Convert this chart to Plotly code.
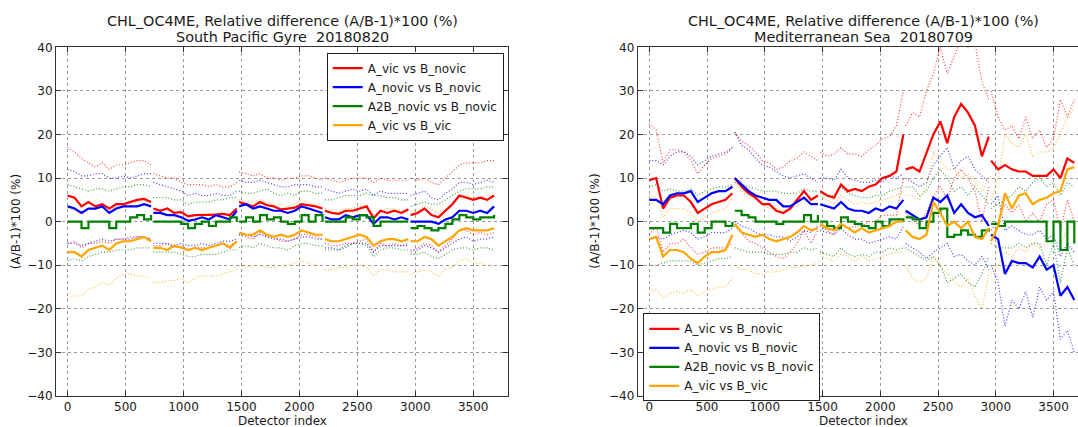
import plotly.graph_objects as go

W, H = 1078, 427
STEP = 60
SEG_START = [0, 740, 1480, 2220, 2960]

SERIES_NAMES = ["A_vic vs B_novic", "A_novic vs B_novic", "A2B_novic vs B_novic", "A_vic vs B_vic"]
COLORS = ["#ff0000", "#0000ff", "#008000", "#ffa500"]
X_TICKS = [0, 500, 1000, 1500, 2000, 2500, 3000, 3500]
Y_TICKS = [-40, -30, -20, -10, 0, 10, 20, 30, 40]
TITLE_1 = "CHL_OC4ME, Relative difference (A/B-1)*100 (%)"
SUBTITLES = ["South Pacific Gyre  20180820", "Mediterranean Sea  20180709"]

# ---------------- South Pacific Gyre 20180820 ----------------
spg_red = [
    [6.0, 5.5, 3.5, 4.5, 3.5, 4.0, 3.0, 4.0, 4.0, 4.5, 5.0, 5.2, 4.5],
    [3.0, 2.5, 3.0, 2.0, 2.2, 1.2, 1.5, 1.5, 1.5, 1.6, 1.8, 1.5, 3.0],
    [4.5, 4.0, 3.5, 4.5, 3.8, 3.5, 2.8, 3.0, 3.2, 4.0, 3.8, 3.5, 3.0],
    [2.5, 2.0, 1.8, 2.5, 2.5, 3.0, 3.5, 0.8, 2.5, 2.0, 2.5, 2.0, 2.8],
    [1.5, 2.0, 3.0, 1.5, 1.0, 2.5, 4.0, 6.0, 5.5, 5.0, 5.5, 5.0, 6.0]]
spg_blue = [
    [3.5, 3.0, 2.0, 3.0, 3.0, 3.5, 2.0, 3.0, 3.5, 3.5, 3.5, 4.0, 3.5],
    [2.0, 2.0, 1.5, 1.5, 1.0, 0.2, 0.5, 1.0, 0.5, 1.5, 1.0, 0.5, 2.5],
    [3.5, 4.0, 3.0, 3.5, 3.0, 2.5, 2.5, 2.0, 2.5, 3.5, 3.0, 2.5, 2.0],
    [1.0, 0.5, 0.5, 1.5, 1.0, 1.5, 1.5, -0.5, 1.0, 1.0, 0.5, 1.0, 0.5],
    [0.0, 0.0, 0.0, 0.0, -0.5, 0.5, 1.0, 2.5, 2.5, 2.0, 2.5, 2.0, 3.5]]
spg_green = [
    [0, 0, -1.5, 0, 0, 0, -1.5, 0, 0, 1.0, 1.5, 0.5, 1.5],
    [0, 0, 0, 0, -0.5, -1.5, -0.5, 0, -1.0, 0, 0, 1.0, 0],
    [0, 1.0, 0, 1.5, 0.5, 1.0, 0, -0.5, 0, 1.5, 0, 1.5, 0],
    [0, 0, 0, 1.0, 0.5, 1.5, 1.0, -1.0, 0, 0, 0, 0, 0],
    [-1.5, -1.0, -1.5, -2.0, -1.5, -0.5, 0.5, 1.5, 1.0, 0.5, 1.0, 1.0, 1.5]]
spg_orange = [
    [-7.0, -7.0, -8.0, -6.5, -6.0, -5.5, -6.5, -5.0, -4.5, -4.5, -4.0, -3.5, -4.5],
    [-6.0, -6.0, -6.5, -5.5, -6.0, -6.5, -6.0, -6.5, -6.0, -5.5, -5.0, -6.0, -4.5],
    [-2.5, -3.0, -3.0, -2.0, -3.0, -3.5, -3.0, -3.5, -3.0, -2.0, -2.5, -3.0, -3.0],
    [-4.0, -4.5, -4.5, -4.0, -3.5, -3.0, -3.5, -5.5, -4.5, -4.0, -4.0, -4.5, -4.0],
    [-4.5, -4.5, -3.5, -4.0, -5.5, -4.5, -3.5, -2.0, -1.5, -2.0, -2.0, -2.0, -1.5]]

spg_red_hi = [
    [17, 16, 14.5, 13.5, 12.5, 13.5, 12, 13, 13, 13.5, 14, 14, 13],
    [11, 10.5, 10, 10, 9, 8.5, 8.5, 8.5, 8, 8.5, 8, 8, 9],
    [11.5, 11, 10.5, 11, 10, 10, 9.5, 10, 10, 10.5, 10.5, 10, 9.5],
    [10, 9.5, 9, 9.5, 10, 10, 10, 9, 10, 9.5, 9.5, 9.5, 9.5],
    [10, 9.5, 10, 9, 8.5, 10, 11.5, 13, 13.5, 13.5, 13.5, 14, 14]]
spg_red_lo = [
    [-5, -4.5, -6, -5, -5, -4.5, -5, -4, -4, -3.5, -3.5, -3.5, -4],
    [-5.5, -5.5, -5, -6, -5.5, -6.5, -6, -6, -6, -5.5, -5, -5.5, -4.5],
    [-3, -3.5, -4, -2.5, -3.5, -3.5, -4.5, -4.5, -4, -3, -3, -3.5, -4],
    [-5, -5.5, -5.5, -5, -5, -4.5, -4, -7, -5, -5.5, -5, -5.5, -5],
    [-7, -6, -5, -5.5, -7, -5.5, -4, -2, -2, -3, -2.5, -3, -2.5]]
spg_blue_hi = [
    [12, 11.5, 10.5, 10.5, 11, 11, 10, 10, 10.5, 10, 10.5, 11, 11],
    [9, 8.5, 8, 7.5, 7, 6, 6.5, 6, 6, 6.5, 6, 6, 7],
    [9.5, 9, 9, 9.5, 9, 8.5, 8, 8, 8.5, 8.5, 8.5, 8, 8],
    [7.5, 7, 6.5, 7, 7.5, 7, 7.5, 6, 7, 6.5, 6.5, 6.5, 6.5],
    [6, 6.5, 7, 5.5, 5, 6.5, 7.5, 9, 9, 8.5, 9, 9.5, 9]]
spg_blue_lo = [
    [-5, -5, -5.5, -5, -4.5, -4, -4.5, -4, -4, -4, -3.5, -3.5, -4],
    [-5, -5, -5, -5.5, -5, -5.5, -5.5, -5, -5.5, -5, -4.5, -4.5, -4],
    [-3, -3, -3.5, -3, -3.5, -4, -4, -4.5, -4, -3.5, -3.5, -4, -4],
    [-6, -6, -6.5, -5.5, -5, -5, -5, -7, -5.5, -5.5, -5.5, -5.5, -5.5],
    [-6.5, -6.5, -5.5, -6, -7, -6, -5, -4, -3.5, -4.5, -4, -4, -3.5]]
spg_green_hi = [
    [8.5, 8, 7.5, 7, 7.5, 7.5, 7, 7.5, 8, 8, 8.5, 8.5, 8],
    [5.5, 5.5, 5.5, 5, 5, 4, 4.5, 4.5, 4.5, 5, 5, 5.5, 5.5],
    [7, 6.5, 6.5, 7, 7.5, 6.5, 6, 6.5, 6, 7, 7, 6.5, 6.5],
    [5, 5, 5.5, 6, 6, 6, 6.5, 6, 6, 5.5, 5.5, 5, 5],
    [3.5, 4, 4.5, 4, 4, 5, 6, 7, 7.5, 7.5, 7.5, 8, 8]]
spg_green_lo = [
    [-9, -8.5, -9, -8, -7.5, -7, -7, -6.5, -6.5, -6.5, -6, -6, -6],
    [-7, -7, -7, -7, -7.5, -8, -8, -7.5, -7.5, -7.5, -7, -6.5, -6.5],
    [-6, -5.5, -6, -5, -5.5, -6, -6, -6.5, -5.5, -5, -5, -5.5, -5.5],
    [-6.5, -6.5, -6.5, -6, -5, -5, -5.5, -8, -6.5, -6, -6, -6.5, -6.5],
    [-7.5, -7.5, -7, -8, -8.5, -7.5, -6.5, -6, -6, -6.5, -6, -6, -6.5]]
spg_orange_hi = [
    [3, 2.5, 1.5, 3, 3, 3.5, 2.5, 3.5, 4, 4, 4.5, 5, 4.5],
    [2, 2, 1.5, 2, 2, 1.5, 1.5, 1.5, 1.5, 2, 2, 1.5, 2],
    [5, 4.5, 4.5, 5, 4.5, 4, 4, 3.5, 4, 5, 4.5, 4, 4],
    [3, 2.5, 2.5, 3, 3, 3.5, 3.5, 1.5, 2.5, 3, 3, 2.5, 3],
    [2.5, 2.5, 3.5, 3, 2, 3, 4, 5.5, 6, 5.5, 5.5, 6, 6]]
spg_orange_lo = [
    [-17.5, -17, -17, -15.5, -15, -14, -14.5, -13, -12, -12, -12.5, -12.5, -13],
    [-14, -14, -13.5, -13.5, -13, -14, -13, -12.5, -12.5, -12.5, -12, -11.5, -11],
    [-10, -10.5, -10, -10, -10.5, -10.5, -10, -10, -9.5, -9, -9.5, -10, -10],
    [-11, -11, -10.5, -10.5, -10, -10, -10.5, -12.5, -11, -11, -11.5, -11.5, -11.5],
    [-12, -11.5, -11, -11.5, -12.5, -11, -10.5, -9, -8.5, -9.5, -9.5, -10, -10]]

# ---------------- Mediterranean Sea 20180709 ----------------
med_red = [
    [9.5, 10, 3.0, 5.5, 6.0, 6.0, 4.5, 2.0, 3.0, 4.0, 4.5, 5.0, 6.5],
    [10, 8.0, 6.5, 5.5, 4.0, 4.0, 2.5, 2.0, 3.0, 5.0, 7.0, 5.0, 6.0],
    [7.0, 6.0, 5.5, 8.5, 7.0, 7.5, 7.0, 8.0, 8.5, 10.0, 10.5, 11.5, 20.0],
    [12, 12.5, 11.5, 16, 20, 23, 18, 24, 27, 25, 22, 15, 19.5],
    [14, 12, 13, 12, 11.5, 11.5, 10.5, 10.5, 10.5, 12, 10, 14.5, 13.5]]
med_blue = [
    [5.0, 5.0, 4.0, 6.0, 6.5, 6.5, 7.0, 4.5, 5.5, 6.5, 7.0, 7.0, 8.0],
    [10, 8.5, 7.0, 6.0, 5.5, 5.0, 5.0, 3.5, 3.5, 4.5, 5.5, 4.0, 4.0],
    [4.0, 3.5, 3.0, 4.5, 3.0, 2.5, 2.5, 2.0, 3.0, 2.5, 3.5, 3.0, 5.0],
    [2.5, 1.5, 0.5, 1.0, 5.5, 4.5, 6.0, 2.0, 4.0, 2.0, 1.0, 1.5, -1.0],
    [-3.0, -4.0, -12, -9.0, -9.5, -9.5, -10.5, -8.0, -11, -10, -17, -15, -18]]
med_green = [
    [-1.5, -1.5, -2.5, -0.5, -1.5, -1.5, -0.5, -2.5, -1.5, 0, 0, -1.0, 0],
    [2.5, 1.5, 1.0, 0, 0, 0, -0.5, 0, 0, 0, 1.5, 0, 1.5],
    [0, -1.0, -1.5, 1.0, 0, -0.5, -1.0, -1.5, 0, -1.0, 0.5, 0.5, 0],
    [1.0, 0.5, -1.5, 0, 2.0, 3.0, -3.5, -3.0, -2.0, -3.0, -3.5, -2.0, -1.5],
    [-0.5, -1.0, 0, 0, 0, 0, 0, 0, -4.5, 0, -6.5, 0, -5.0]]
med_orange = [
    [-4.0, -3.5, -8.0, -6.5, -6.5, -7.0, -8.5, -9.5, -8.0, -7.0, -7.0, -6.5, -3.0],
    [-0.5, -2.5, -3.0, -3.5, -3.0, -4.0, -4.5, -4.0, -3.5, -2.5, -1.0, -2.0, -1.5],
    [-0.5, -1.5, -2.0, -0.5, -1.5, -2.5, -1.5, -2.5, -2.0, -1.5, -1.0, 0, 0],
    [-2.0, -3.5, -4.0, -3.0, 4.5, 2.0, -1.0, 0, -1.5, 0, -3.5, -4.0, -1.5],
    [-4.5, -1.0, 6.5, 3.0, 6.0, 6.5, 4.0, 5.0, 5.5, 6.5, 7.0, 12.0, 12.5]]

med_red_hi = [
    [22.5, 21, 13.5, 16.5, 16.5, 16, 14, 11, 13, 14.5, 15, 15.5, 17],
    [20.5, 18.5, 17.5, 16, 14, 13.5, 12, 12.5, 14, 14.5, 16, 15, 14],
    [16, 15, 15.5, 17, 15.5, 15.5, 15, 16.5, 17.5, 19, 19.5, 22, 30],
    [22, 25, 24, 30, 34, 40, 34, 38, 42, 40, 41, 32, 28],
    [30, 24, 21, 22, 19, 24, 19, 21, 17, 19, 28, 24, 28]]
med_red_lo = [
    [-3, -1, -7, -5, -5, -4, -6, -7.5, -7, -6, -6, -6, -5],
    [-1, -2.5, -4.5, -5, -6, -7, -8, -8.5, -7, -5, -2, -5, -2],
    [-1, -2, -3, -0.5, -1.5, -1, -1, 0, 0, 1.5, 1.5, 1.5, 10],
    [2, 0.5, -1, 2, 6, 8, 5, 10, 12, 10, 7, 0, 8],
    [-2, 0, 4, 2, 4, 0, 2, 0, 4, 5, -2, 5, 0]]
med_blue_hi = [
    [14, 14, 13, 15, 16, 16, 15, 13, 14, 15, 15.5, 16, 17],
    [20.5, 17.5, 16.5, 14.5, 13, 12.5, 11.5, 10.5, 10, 10.5, 11, 10, 9],
    [10, 10, 9.5, 12, 10, 9.5, 9, 9, 9.5, 9, 10.5, 10, 11],
    [10, 9, 8, 9, 13, 15, 17, 12, 14, 15, 12, 10.5, 9],
    [4, 6, -2, -1, -2, -3, -3, -2, -4, -3, -8, -5, -7]]
med_blue_lo = [
    [-4, -3.5, -4, -3, -2.5, -2, -2.5, -4, -3.5, -2.5, -2.5, -2.5, -1.5],
    [0, -1, -1.5, -2.5, -3, -3, -3.5, -3.5, -4.5, -3.5, -2, -2.5, -1],
    [-2, -2.5, -3, -1.5, -3, -4, -4, -5, -4.5, -4, -3.5, -4, -1],
    [-5, -6, -7, -8.5, -7, -6, -5, -8, -7.5, -9, -10, -8, -11],
    [-10, -14, -24, -18, -20, -16, -22, -15, -18, -16, -27, -25, -30]]
med_green_hi = [
    [8, 8.5, 7, 7.5, 7, 7, 7.5, 6, 7, 7.5, 8, 8, 8.5],
    [9, 8.5, 8, 7.5, 7, 7, 7, 6.5, 6.5, 6.5, 7.5, 7, 7],
    [6.5, 6, 6, 8, 6.5, 6, 5.5, 5.5, 6, 6, 7, 7.5, 8],
    [8, 8, 6, 7, 10, 12, 10, 7, 8, 6, 8, 6, 4],
    [3, 4, 5, 6, 8, 7, 9, 10, 8, 9, 6, 9, 8]]
med_green_lo = [
    [-10, -10, -9.5, -9, -9, -9, -9, -10, -9.5, -9, -8.5, -8.5, -8],
    [-6, -6.5, -7, -7, -7, -7.5, -7.5, -7.5, -7, -7, -6, -6.5, -6],
    [-7, -7.5, -8, -6, -7.5, -8, -7.5, -8, -7, -7, -6, -6.5, -6],
    [-6, -7, -8, -9, -8, -10, -14, -13, -12, -14, -15, -12, -8],
    [-5, -6, -6, -6, -5, -6, -5, -5, -10, -5, -14, -6, -10]]
med_orange_hi = [
    [6, 5.5, 1, 3, 3, 3, 2, 0, 1, 2, 2.5, 3, 5.5],
    [9, 7, 5.5, 5, 4, 3, 3, 2.5, 3, 3.5, 5, 4, 4],
    [6, 5, 4, 6, 5, 4, 4.5, 4, 4.5, 5, 5.5, 6, 7],
    [6, 6, 5, 8, 16, 14, 12, 12, 10, 11, 9, 7, 10],
    [5, 10, 20, 18, 17, 20, 15, 16, 16, 17, 20, 24, 26]]
med_orange_lo = [
    [-16, -15.5, -17.5, -16.5, -16, -16.5, -15.5, -17, -16, -15.5, -15, -15, -13],
    [-10, -11, -11, -12, -12, -11.5, -11.5, -11, -10.5, -10.5, -10, -10, -9.5],
    [-7.5, -8.5, -9, -7.5, -8, -9, -8, -9, -8.5, -8, -7.5, -7, -7],
    [-10, -13, -14, -13, -8, -10, -12, -14, -15, -13, -17, -20, -12],
    [-12, -10, -7, -8, -6, -7, -5, -6, -5, -4, -5, -2, 0]]


def seg_xy(segs):
    xs, ys = [], []
    for s0, vals in zip(SEG_START, segs):
        for i, v in enumerate(vals):
            xs.append(s0 + i * STEP)
            ys.append(v)
        xs.append(None)
        ys.append(None)
    return xs, ys


fig = go.Figure()

panels = [
    dict(xa="x", ya="y", legend="legend",
         mean=[spg_red, spg_blue, spg_green, spg_orange],
         hi=[spg_red_hi, spg_blue_hi, spg_green_hi, spg_orange_hi],
         lo=[spg_red_lo, spg_blue_lo, spg_green_lo, spg_orange_lo]),
    dict(xa="x2", ya="y2", legend="legend2",
         mean=[med_red, med_blue, med_green, med_orange],
         hi=[med_red_hi, med_blue_hi, med_green_hi, med_orange_hi],
         lo=[med_red_lo, med_blue_lo, med_green_lo, med_orange_lo]),
]
SHAPES = ["linear", "linear", "hv", "linear"]

for p in panels:
    for k in range(4):
        for band in (p["hi"][k], p["lo"][k]):
            x, y = seg_xy(band)
            fig.add_trace(go.Scatter(x=x, y=y, mode="lines", xaxis=p["xa"], yaxis=p["ya"],
                                     line=dict(color=COLORS[k], width=1.2, dash="1px,2px"),
                                     opacity=0.75, showlegend=False, hoverinfo="skip"))
    for k in range(4):
        x, y = seg_xy(p["mean"][k])
        fig.add_trace(go.Scatter(x=x, y=y, mode="lines", xaxis=p["xa"], yaxis=p["ya"],
                                 name=SERIES_NAMES[k], legend=p["legend"],
                                 line=dict(color=COLORS[k], width=2.2, shape=SHAPES[k])))

FONT = "DejaVu Sans"
TXT = "#1a1a1a"
TICKF = dict(family=FONT, size=12, color=TXT)


def px_x(v):
    return v / W


def px_y(v):
    return 1 - v / H


ydom = [px_y(396), px_y(47.3)]
common_x = dict(tickvals=X_TICKS, ticks="inside", ticklen=5,
                tickcolor="#333", showline=True, linecolor="#333", linewidth=1,
                showgrid=True, gridcolor="#9a9a9a", griddash="dot", gridwidth=1,
                zeroline=False, tickfont=TICKF)
common_y = dict(range=[-40, 40], tickvals=Y_TICKS, ticks="inside", ticklen=5,
                tickcolor="#333", showline=True, linecolor="#333", linewidth=1,
                showgrid=True, gridcolor="#9a9a9a", griddash="dot", gridwidth=1,
                zeroline=False, tickfont=TICKF, domain=ydom)

LEG = dict(xanchor="left", yanchor="top", bgcolor="white", bordercolor="#222", borderwidth=1,
           font=dict(family=FONT, size=12, color=TXT), tracegroupgap=0, itemwidth=30)

fig.update_layout(
    width=W, height=H, autosize=False,
    margin=dict(l=0, r=0, t=0, b=0, autoexpand=False),
    paper_bgcolor="white", plot_bgcolor="white",
    font=dict(family=FONT, size=12, color=TXT),
    xaxis=dict(domain=[px_x(56), px_x(508)], range=[-100, 3800], anchor="y", mirror="ticks", **common_x),
    yaxis=dict(anchor="x", mirror="ticks", **common_y),
    xaxis2=dict(domain=[px_x(637.7), 1.0], range=[-100, 3712], anchor="y2", mirror="ticks", **common_x),
    yaxis2=dict(anchor="x2", mirror=False, **common_y),
    legend=dict(x=px_x(326.7), y=px_y(52.7), **LEG),
    legend2=dict(x=px_x(643.3), y=px_y(313.3), **LEG),
)

CENTERS = [282, 863]
for sub, cx in zip(SUBTITLES, CENTERS):
    fig.add_annotation(text=TITLE_1, xref="paper", yref="paper", x=px_x(cx), y=px_y(20.7),
                       xanchor="center", yanchor="middle", showarrow=False,
                       font=dict(family=FONT, size=14.4, color=TXT))
    fig.add_annotation(text=sub, xref="paper", yref="paper", x=px_x(cx), y=px_y(36.7),
                       xanchor="center", yanchor="middle", showarrow=False,
                       font=dict(family=FONT, size=14.4, color=TXT))
    fig.add_annotation(text="Detector index", xref="paper", yref="paper", x=px_x(cx), y=px_y(421),
                       xanchor="center", yanchor="middle", showarrow=False,
                       font=dict(family=FONT, size=12, color=TXT))

for cx in (15.5, 595):
    fig.add_annotation(text="(A/B-1)*100 (%)", xref="paper", yref="paper", x=px_x(cx), y=px_y(221.7),
                       xanchor="center", yanchor="middle", textangle=-90, showarrow=False,
                       font=dict(family=FONT, size=12, color=TXT))

fig.write_html("out.html")
